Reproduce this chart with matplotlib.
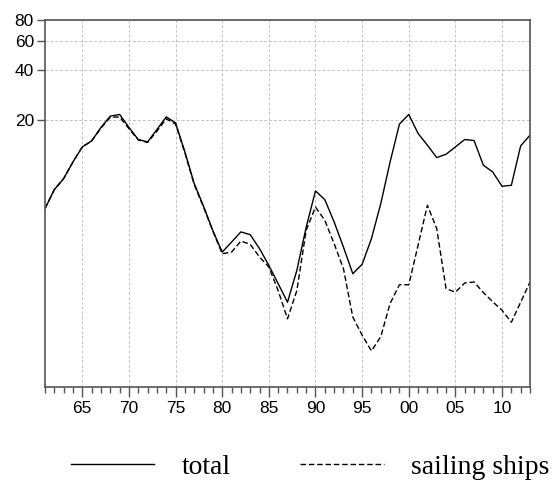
import matplotlib
matplotlib.use("Agg")
import matplotlib.pyplot as plt
from matplotlib.lines import Line2D
from matplotlib.ticker import FixedLocator, NullLocator, FixedFormatter, MultipleLocator

# annual data, 1961-2013 (log scale)
years = list(range(1961, 2014))

total = [5.88, 7.65, 8.91, 11.22, 13.81, 15.01, 18.08, 21.14, 21.65, 18.08,
         15.30, 14.80, 17.58, 20.93, 19.26, 12.89, 8.31, 6.07, 4.33, 3.22,
         3.70, 4.26, 4.10, 3.38, 2.68, 2.08, 1.61, 2.50, 4.54, 7.51,
         6.66, 4.89, 3.45, 2.39, 2.72, 3.88, 6.30, 11.22, 18.92, 21.65,
         16.64, 14.14, 11.92, 12.48, 13.81, 15.30, 15.09, 10.72, 9.77, 8.01,
         8.12, 14.01, 16.25]

sailing = [5.88, 7.65, 8.91, 11.22, 13.81, 15.01, 17.90, 20.85, 20.90, 17.78,
           15.20, 14.70, 17.17, 20.40, 18.92, 12.70, 8.20, 6.00, 4.30, 3.15,
           3.22, 3.75, 3.59, 3.01, 2.62, 1.89, 1.28, 1.89, 4.35, 6.01,
           5.00, 3.62, 2.56, 1.31, 1.02, 0.82, 1.00, 1.58, 2.05, 2.05,
           3.54, 6.16, 4.46, 1.94, 1.85, 2.10, 2.13, 1.84, 1.62, 1.44,
           1.22, 1.61, 2.13]

ytick_vals = [20, 40, 60, 80]
xtick_years = list(range(1965, 2011, 5))
xtick_labels = [f"{y % 100:02d}" for y in xtick_years]

SANS = "Liberation Sans"
SERIF = "Liberation Serif"
SPINE = "#555555"
GRID = "#c4c4c4"

fig = plt.figure(figsize=(5.54, 4.84), dpi=100)
ax = fig.add_axes([45 / 554, 1 - 386.7 / 484, 485 / 554, 366.7 / 484])

ax.plot(years, total, color="black", lw=1.0, label="total")
ax.plot(years, sailing, color="black", lw=1.0, dashes=(4, 2), label="sailing ships")

ax.set_yscale("log")
ax.set_ylim(0.5, 80)
ax.set_xlim(1961, 2013)

ax.yaxis.set_major_locator(FixedLocator(ytick_vals))
ax.yaxis.set_major_formatter(FixedFormatter([str(v) for v in ytick_vals]))
ax.yaxis.set_minor_locator(NullLocator())

ax.xaxis.set_major_locator(FixedLocator(xtick_years))
ax.xaxis.set_major_formatter(FixedFormatter(xtick_labels))
ax.xaxis.set_minor_locator(MultipleLocator(1))

ax.grid(True, which="major", color=GRID, ls=(0, (3, 2)), lw=0.7)
ax.set_axisbelow(True)

ax.tick_params(axis="y", which="major", direction="out", length=6, width=1,
               color=SPINE, pad=2, labelsize=12.5)
ax.tick_params(axis="x", which="major", direction="out", length=7, width=1,
               color=SPINE, pad=3, labelsize=12.5)
ax.tick_params(axis="x", which="minor", direction="out", length=4, width=1,
               color=SPINE)
for lbl in ax.get_xticklabels() + ax.get_yticklabels():
    lbl.set_family(SANS)

for sp in ax.spines.values():
    sp.set_color(SPINE)
    sp.set_linewidth(1.2)

handles = [Line2D([], [], color="black", lw=1.0),
           Line2D([], [], color="black", lw=1.0, dashes=(4, 2))]
fig.legend(handles, ["total", "sailing ships"], loc="center",
           bbox_to_anchor=(0.56, 0.035), ncol=2, frameon=False,
           prop={"family": SERIF, "size": 20}, handlelength=3.0,
           handletextpad=1.0, columnspacing=2.5)

fig.savefig("out.png", dpi=100)
